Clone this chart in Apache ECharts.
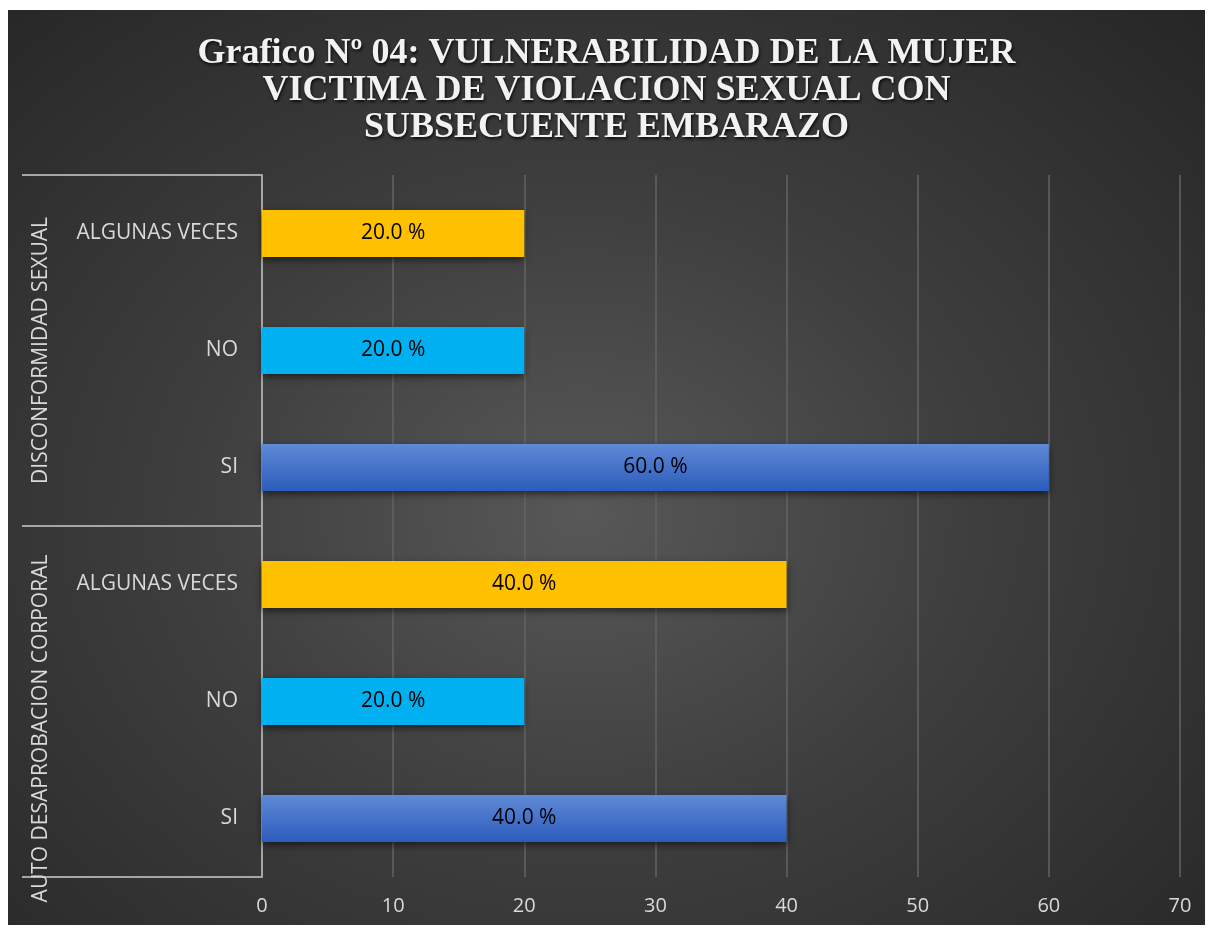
<!DOCTYPE html>
<html>
<head>
<meta charset="utf-8">
<script src="https://cdn.jsdelivr.net/npm/echarts@6/dist/echarts.min.js"></script>
<style>
	body { margin: 0; background: #ffffff; }
	#chart {
		position: absolute;
		left: 8px;
		top: 10px;
		width: 1197px;
		height: 915px;
		background: radial-gradient(ellipse at 48% 55%, #585858 0%, #3e3e3e 45%, #262626 100%);
	}
</style>
</head>
<body>
<div id="chart"></div>
<script>
	// categorías de abajo hacia arriba (eje de categorías de ECharts)
	var groups = ["AUTO DESAPROBACION CORPORAL", "DISCONFORMIDAD SEXUAL"];
	var answers = ["SI", "NO", "ALGUNAS VECES", "SI", "NO", "ALGUNAS VECES"];
	var percents = [40, 20, 40, 60, 20, 20];
	var xTicks = { min: 0, max: 70, interval: 10 };

	var blueGrad = new echarts.graphic.LinearGradient(0, 0, 0, 1, [
		{ offset: 0, color: "#6089d6" },
		{ offset: 1, color: "#2c5cbc" }
	]);
	var answerColors = {
		"SI": blueGrad,
		"NO": "#00b0f0",
		"ALGUNAS VECES": "#ffc000"
	};

	var labelFont = "Open Sans";
	var myChart = echarts.init(document.getElementById("chart"));

	var option = {
		title: {
			text: "Grafico Nº 04: VULNERABILIDAD DE LA MUJER\nVICTIMA DE VIOLACION SEXUAL CON\nSUBSECUENTE EMBARAZO",
			left: "center",
			top: 20,
			textStyle: {
				fontFamily: "Liberation Serif",
				fontWeight: "bold",
				fontSize: 36,
				lineHeight: 37,
				color: "#f2f2f2",
				textShadowColor: "rgba(0,0,0,0.8)",
				textShadowBlur: 3,
				textShadowOffsetX: 1,
				textShadowOffsetY: 2
			}
		},
		grid: {
			left: 254,
			right: 25,
			top: 165,
			bottom: 48
		},
		xAxis: {
			type: "value",
			min: xTicks.min,
			max: xTicks.max,
			interval: xTicks.interval,
			axisLine: { show: false },
			axisTick: { show: false },
			axisLabel: {
				color: "#d9d9d9",
				fontSize: 20,
				fontFamily: labelFont,
				margin: 19
			},
			splitLine: {
				lineStyle: { color: "#636363", width: 1.5 }
			}
		},
		yAxis: [{
				type: "category",
				data: answers,
				axisLine: { show: false },
				axisTick: { show: false },
				axisLabel: {
					interval: 0,
					color: "#d9d9d9",
					fontSize: 21,
					fontFamily: labelFont,
					margin: 24
				}
			},
			{
				type: "category",
				data: groups,
				position: "left",
				axisLine: {
					show: true,
					lineStyle: { color: "#a6a6a6", width: 2 }
				},
				axisTick: {
					show: true,
					interval: 0,
					length: 240,
					lineStyle: { color: "#a6a6a6", width: 2 }
				},
				axisLabel: {
					interval: 0,
					rotate: 90,
					color: "#d9d9d9",
					fontSize: 21,
					fontFamily: labelFont,
					margin: 210,
					formatter: function(v) {
						// Excel desplaza la etiqueta del grupo inferior hacia abajo
						return v === groups[0] ? "{low|" + v + "}" : v;
					},
					rich: {
						low: {
							color: "#d9d9d9",
							fontSize: 21,
							fontFamily: labelFont,
							padding: [0, 54, 0, 0]
						}
					}
				}
			}
		],
		series: [{
			type: "bar",
			yAxisIndex: 0,
			barWidth: "40%",
			data: percents,
			itemStyle: {
				color: function(p) {
					return answerColors[answers[p.dataIndex]];
				},
				shadowColor: "rgba(0,0,0,0.55)",
				shadowBlur: 7,
				shadowOffsetY: 3
			},
			label: {
				show: true,
				position: "inside",
				color: "#000000",
				fontSize: 21,
				fontFamily: labelFont,
				formatter: function(p) {
					return p.value.toFixed(1) + " %";
				}
			}
		}]
	};

	myChart.setOption(option);
</script>
</body>
</html>
